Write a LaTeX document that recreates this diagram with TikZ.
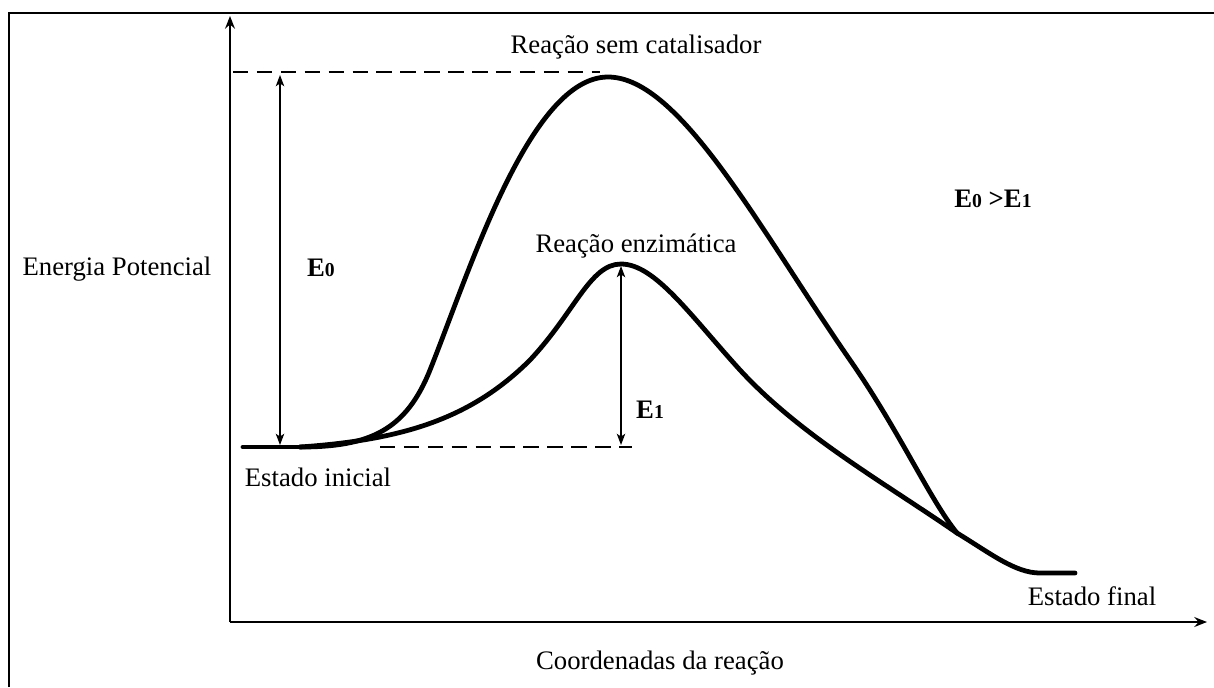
\documentclass[tikz,border=0pt]{standalone}
\usepackage{fontspec}
\setmainfont{Liberation Serif}
\usetikzlibrary{arrows.meta}
\newcommand{\Enum}[1]{E{\fontsize{14}{16}\selectfont #1}}
\begin{document}
\begin{tikzpicture}[x=0.025cm,y=-0.025cm,
  lbl/.style={font=\fontsize{19}{22}\selectfont},
  elbl/.style={font=\fontsize{19}{22}\selectfont\bfseries},
  curve/.style={line width=3.4pt,line join=round,line cap=round},
  ax/.style={line width=1.5pt,-{Stealth[length=9pt,width=7pt,inset=3pt]}},
  dim/.style={line width=0.9pt,{Stealth[length=8pt,width=6pt,inset=2pt]}-{Stealth[length=8pt,width=6pt,inset=2pt]}},
  dsh/.style={line width=1.6pt,dash pattern=on 11pt off 6pt}]
\useasboundingbox (0,0) rectangle (1214,687);

% frame
\coordinate (F0) at (9,687);
\coordinate (F1) at (9,13);
\coordinate (F2) at (1214,13);
\draw[line width=1.3pt] (F0)--(F1)--(F2);

% axes
\coordinate (O) at (230,622);
\coordinate (Y) at (230,16);
\coordinate (X) at (1207,622);
\draw[ax] (O)--(Y);
\draw[ax] (O)--(X);

% key points
\coordinate (S) at (243,447);
\coordinate (S1) at (300,447);
\coordinate (P0) at (608,77);
\coordinate (P1) at (621,264);
\coordinate (M) at (957,533);
\coordinate (T0) at (1040,573);
\coordinate (T) at (1075,573);
\coordinate (D0a) at (233,72);
\coordinate (D0b) at (600,72);
\coordinate (D1a) at (380,447);
\coordinate (D1b) at (632,447);

% dashed levels
\draw[dsh] (D0a)--(D0b);
\draw[dsh,line width=1.2pt] (D1a)--(D1b);

% curves
\draw[curve] (S)--(S1);
\draw[curve] (S1) .. controls (370,447) and (406,430) .. (430,370)
  .. controls (470,270) and (530,77) .. (P0)
  .. controls (680,77) and (760,230) .. (850,360)
  .. controls (900,432) and (930,500) .. (M);
\draw[curve] (S1) .. controls (400,440) and (470,420) .. (530,360)
  .. controls (575,312) and (590,264) .. (P1)
  .. controls (655,264) and (690,315) .. (740,370)
  .. controls (800,435) and (880,480) .. (M);
\draw[curve] (M) .. controls (990,553) and (1015,573) .. (T0) -- (T);

% energy gaps
\coordinate (A0) at (280,75);
\coordinate (B0) at (280,445);
\coordinate (A1) at (621,266);
\coordinate (B1) at (621,445);
\draw[dim] (B0)--(A0);
\draw[dim] (B1)--(A1);

% labels
\node[lbl] (semcat) at (636,47) {Reação sem catalisador};
\node[lbl] (enzim) at (636,246) {Reação enzimática};
\node[lbl] (energ) at (117,269) {Energia Potencial};
\node[lbl] (inic) at (318,477) {Estado inicial};
\node[lbl] (final) at (1092,596) {Estado final};
\node[lbl] (coord) at (660,663) {Coordenadas da reação};
\node[elbl] (e0) at (321,268) {\Enum{0}};
\node[elbl] (e1) at (650,410) {\Enum{1}};
\node[elbl] (cmp) at (993,199) {\Enum{0} >\Enum{1}};
\end{tikzpicture}
\end{document}
